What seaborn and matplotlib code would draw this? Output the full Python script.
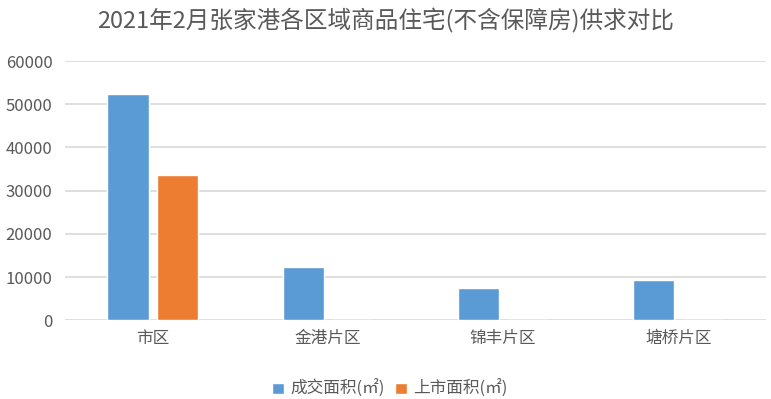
import matplotlib
matplotlib.use('Agg')
import matplotlib.pyplot as plt
import seaborn as sns
import pandas as pd

# data
regions = ['市区', '金港片区', '锦丰片区', '塘桥片区']
deal_area = [52400, 12300, 7400, 9250]     # 成交面积(㎡)
listed_area = [33600, 0, 0, 0]             # 上市面积(㎡)
series_names = ['成交面积(㎡)', '上市面积(㎡)']
colors = ['#5b9bd5', '#ed7d31']

df = pd.DataFrame({
    'Region': regions * 2,
    'Series': [series_names[0]] * 4 + [series_names[1]] * 4,
    'Area': deal_area + listed_area,
})

sns.set_style('white')
plt.rcParams['font.family'] = ['Noto Sans CJK SC', 'DejaVu Sans']
text_color = '#595959'

fig = plt.figure(figsize=(7.71, 3.99), dpi=100)
ax = fig.add_axes([0.0843, 0.197, 0.909, 0.65])

sns.barplot(data=df, x='Region', y='Area', hue='Series', palette=colors,
            width=0.56, gap=0.16, ax=ax, saturation=1, legend=True)

ax.set_ylim(0, 60000)
ax.set_yticks(range(0, 60001, 10000))
ax.yaxis.grid(True, color='#d9d9d9', linewidth=1.2)
ax.set_axisbelow(True)
for s in ax.spines.values():
    s.set_visible(False)
ax.tick_params(axis='both', length=0, colors=text_color, labelsize=12)
ax.tick_params(axis='x', pad=7)
ax.tick_params(axis='y', pad=9)
ax.set_xlabel('')
ax.set_ylabel('')

fig.suptitle('2021年2月张家港各区域商品住宅(不含保障房)供求对比',
             x=0.5, y=0.98, fontsize=17, color=text_color)

handles, labels = ax.get_legend_handles_labels()
ax.legend(handles, labels, loc='lower center', bbox_to_anchor=(0.464, -0.345),
          ncol=2, frameon=False, fontsize=12, labelcolor=text_color,
          handlelength=0.7, handleheight=0.7, handletextpad=0.4, columnspacing=0.6,
          borderpad=0.2)

fig.savefig('out.png', dpi=100, facecolor='white')
